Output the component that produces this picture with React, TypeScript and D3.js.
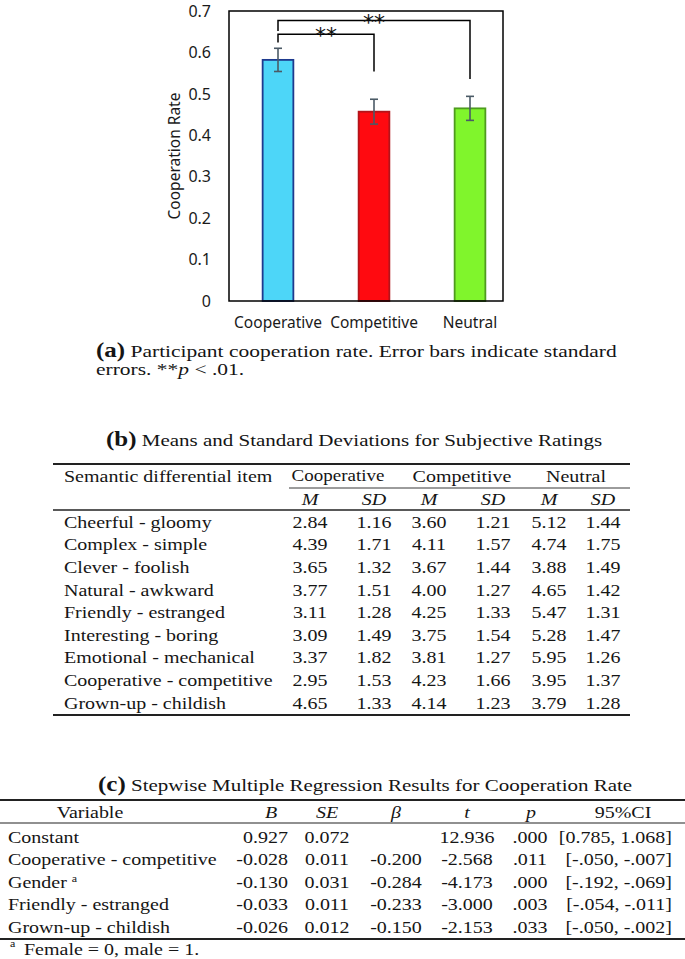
import React, { useEffect, useRef } from 'react';
import * as d3 from 'd3';

// (a) cooperation rate per condition
const conditions = ['Cooperative', 'Competitive', 'Neutral'];
const cooperationRates = [0.582, 0.457, 0.465];
const standardErrors = [0.028, 0.03, 0.029];
const barFills = ['#4DD6F8', '#FF0A10', '#80F52C'];
const barStrokes = ['#1E3A8E', '#B3141A', '#4E9C1E'];
const rateTicks = [0, 0.1, 0.2, 0.3, 0.4, 0.5, 0.6, 0.7];

// significance brackets, heights in cooperation-rate units
const brackets = [
  { from: 'Cooperative', to: 'Neutral', top: 0.677, leftEnd: 0.652, rightEnd: 0.536, label: '**' },
  { from: 'Cooperative', to: 'Competitive', top: 0.644, leftEnd: 0.624, rightEnd: 0.554, label: '**' },
];

// (b) subjective ratings
const ratingItems = [
  'Cheerful - gloomy',
  'Complex - simple',
  'Clever - foolish',
  'Natural - awkward',
  'Friendly - estranged',
  'Interesting - boring',
  'Emotional - mechanical',
  'Cooperative - competitive',
  'Grown-up - childish',
];
const ratingGroups = ['Cooperative', 'Competitive', 'Neutral'];
const cooperativeM = [2.84, 4.39, 3.65, 3.77, 3.11, 3.09, 3.37, 2.95, 4.65];
const cooperativeSD = [1.16, 1.71, 1.32, 1.51, 1.28, 1.49, 1.82, 1.53, 1.33];
const competitiveM = [3.6, 4.11, 3.67, 4.0, 4.25, 3.75, 3.81, 4.23, 4.14];
const competitiveSD = [1.21, 1.57, 1.44, 1.27, 1.33, 1.54, 1.27, 1.66, 1.23];
const neutralM = [5.12, 4.74, 3.88, 4.65, 5.47, 5.28, 5.95, 3.95, 3.79];
const neutralSD = [1.44, 1.75, 1.49, 1.42, 1.31, 1.47, 1.26, 1.37, 1.28];

// (c) stepwise regression
const regVariables = [
  'Constant',
  'Cooperative - competitive',
  'Gender',
  'Friendly - estranged',
  'Grown-up - childish',
];
const regB = [0.927, -0.028, -0.13, -0.033, -0.026];
const regSE = [0.072, 0.011, 0.031, 0.011, 0.012];
const regBeta = [null, -0.2, -0.284, -0.233, -0.15];
const regT = [12.936, -2.568, -4.173, -3.0, -2.153];
const regP = [0.0, 0.011, 0.0, 0.003, 0.033];
const regCILow = [0.785, -0.05, -0.192, -0.054, -0.05];
const regCIHigh = [1.068, -0.007, -0.069, -0.011, -0.002];

const W = 685;
const H = 959;
const SERIF = '"Liberation Serif", "Times New Roman", serif';
const SANS = '"Noto Sans", "Open Sans", sans-serif';
const INK = '#151515';
// the LaTeX parts of the figure are stretched wider than tall
const SY_CAPTION = 0.8;
const SY_TABLE = 0.86;

type Sel = d3.Selection<SVGSVGElement, unknown, null, undefined>;
type GSel = d3.Selection<any, unknown, null, undefined>;

// plain hyphen minus, as in the source tables
const fix3 = (v: number) => v.toFixed(3);
const fix2 = (v: number) => v.toFixed(2);
const noZero = (v: number) => (v < 0 ? '-' + (-v).toFixed(3).replace(/^0/, '') : v.toFixed(3));

const at = (x: number, y: number, sy = SY_TABLE) => `translate(${x},${y}) scale(1,${sy})`;

function drawBarChart(svg: Sel) {
  const plot = { left: 229, right: 503, top: 11, bottom: 301 };

  const y = d3.scaleLinear().domain([0, 0.7]).range([plot.bottom, plot.top]);
  const x = d3
    .scaleBand()
    .domain(conditions)
    .range([plot.left + 1, plot.right + 15])
    .paddingInner(0.68)
    .paddingOuter(0.34);
  const cx = (c: string) => (x(c) || 0) + x.bandwidth() / 2;

  const g = svg.append('g');

  // bars
  g.selectAll('.bar')
    .data(conditions)
    .enter()
    .append('rect')
    .attr('class', 'bar')
    .attr('x', (d) => x(d) || 0)
    .attr('y', (d, i) => y(cooperationRates[i]))
    .attr('width', x.bandwidth())
    .attr('height', (d, i) => y(0) - y(cooperationRates[i]))
    .attr('fill', (d, i) => barFills[i])
    .attr('stroke', (d, i) => barStrokes[i])
    .attr('stroke-width', 1.8);

  // error bars
  const err = g
    .selectAll('.err')
    .data(conditions)
    .enter()
    .append('g')
    .attr('class', 'err')
    .attr('stroke', '#4B5A66')
    .attr('stroke-width', 1.6);
  err
    .append('line')
    .attr('x1', (d) => cx(d))
    .attr('x2', (d) => cx(d))
    .attr('y1', (d, i) => y(cooperationRates[i] - standardErrors[i]))
    .attr('y2', (d, i) => y(cooperationRates[i] + standardErrors[i]));
  [-1, 1].forEach((s) => {
    err
      .append('line')
      .attr('x1', (d) => cx(d) - 4)
      .attr('x2', (d) => cx(d) + 4)
      .attr('y1', (d, i) => y(cooperationRates[i] + s * standardErrors[i]))
      .attr('y2', (d, i) => y(cooperationRates[i] + s * standardErrors[i]));
  });

  // plot frame
  g.append('rect')
    .attr('x', plot.left)
    .attr('y', plot.top)
    .attr('width', plot.right - plot.left)
    .attr('height', plot.bottom - plot.top)
    .attr('fill', 'none')
    .attr('stroke', '#000')
    .attr('stroke-width', 1.5);

  // y tick labels
  g.selectAll('.ytick')
    .data(rateTicks)
    .enter()
    .append('text')
    .attr('x', plot.left - 18)
    .attr('y', (d) => y(d))
    .attr('dy', '0.36em')
    .attr('text-anchor', 'end')
    .attr('font-family', SANS)
    .attr('font-size', 16)
    .attr('fill', '#1a1a1a')
    .text((d) => (d === 0 ? '0' : d3.format('.1f')(d)));

  g.append('text')
    .attr('transform', `translate(180,${(plot.top + plot.bottom) / 2}) rotate(-90)`)
    .attr('text-anchor', 'middle')
    .attr('font-family', SANS)
    .attr('font-size', 15.5)
    .attr('fill', '#1a1a1a')
    .text('Cooperation Rate');

  // x labels
  g.selectAll('.xlab')
    .data(conditions)
    .enter()
    .append('text')
    .attr('x', (d) => cx(d))
    .attr('y', 328)
    .attr('text-anchor', 'middle')
    .attr('font-family', SANS)
    .attr('font-size', 15.5)
    .attr('fill', '#1a1a1a')
    .text((d) => d);

  // significance brackets
  brackets.forEach((b) => {
    g.append('path')
      .attr('d', `M${cx(b.from)},${y(b.leftEnd)}V${y(b.top)}H${cx(b.to)}V${y(b.rightEnd)}`)
      .attr('fill', 'none')
      .attr('stroke', '#000')
      .attr('stroke-width', 1.5);
    g.append('text')
      .attr('x', (cx(b.from) + cx(b.to)) / 2)
      .attr('y', y(b.top) + 9)
      .attr('text-anchor', 'middle')
      .attr('font-family', '"DejaVu Sans", sans-serif')
      .attr('font-size', 22)
      .attr('fill', '#111')
      .text(b.label);
  });
}

function drawCaption(svg: Sel) {
  const t1 = svg
    .append('text')
    .attr('transform', at(96, 357, SY_CAPTION))
    .attr('font-family', SERIF)
    .attr('fill', INK);
  t1.append('tspan').attr('font-weight', 'bold').attr('font-size', 25).text('(a)');
  t1.append('tspan').attr('font-size', 21.5).text(' Participant cooperation rate. Error bars indicate standard');

  const t2 = svg
    .append('text')
    .attr('transform', at(96, 375, SY_CAPTION))
    .attr('font-family', SERIF)
    .attr('font-size', 21.5)
    .attr('fill', INK);
  t2.append('tspan').text('errors. **');
  t2.append('tspan').attr('font-style', 'italic').text('p');
  t2.append('tspan').text(' < .01.');
}

function title(svg: Sel, x: number, y: number, tag: string, text: string) {
  const t = svg
    .append('text')
    .attr('transform', at(x, y, SY_CAPTION))
    .attr('font-family', SERIF)
    .attr('fill', INK);
  t.append('tspan').attr('font-weight', 'bold').attr('font-size', 25).text(tag);
  t.append('tspan').attr('font-size', 21).text(' ' + text);
}

function rule(svg: Sel, x1: number, x2: number, y: number, w: number) {
  svg
    .append('line')
    .attr('x1', x1)
    .attr('x2', x2)
    .attr('y1', y)
    .attr('y2', y)
    .attr('stroke', '#222')
    .attr('stroke-width', w);
}

function cellText(g: GSel, x: number, y: number, anchor: string, s: string, italic = false) {
  return g
    .append('text')
    .attr('transform', at(x, y))
    .attr('dy', '0.33em')
    .attr('text-anchor', anchor)
    .attr('font-style', italic ? 'italic' : 'normal')
    .text(s);
}

function drawRatingsTable(svg: Sel) {
  title(svg, 106, 446, '(b)', 'Means and Standard Deviations for Subjective Ratings');

  const left = 53;
  const right = 630;
  const cols = ['cM', 'cSD', 'pM', 'pSD', 'nM', 'nSD'];
  const colX = d3.scaleOrdinal<string, number>().domain(cols).range([310, 374, 429, 493, 549, 603]);
  const groupX = d3.scaleOrdinal<string, number>().domain(ratingGroups).range([338, 462, 576]);
  const rowY = d3.scalePoint<string>().domain(ratingItems).range([522, 703]);
  const values = [cooperativeM, cooperativeSD, competitiveM, competitiveSD, neutralM, neutralSD];

  rule(svg, left, right, 464, 1.8);
  rule(svg, 289, right, 488, 0.9);
  rule(svg, left, right, 510, 1.3);
  rule(svg, left, right, 715, 1.8);

  const g = svg.append('g').attr('font-family', SERIF).attr('font-size', 20).attr('fill', INK);

  cellText(g, 64, 476, 'start', 'Semantic differential item');
  ratingGroups.forEach((grp) =>
    cellText(g, groupX(grp), 476, 'middle', grp).attr('font-size', grp === 'Cooperative' ? 19 : 20)
  );
  cols.forEach((c) => cellText(g, colX(c), 499, 'middle', c.endsWith('SD') ? 'SD' : 'M', true));

  ratingItems.forEach((item, r) => {
    const yy = rowY(item) || 0;
    cellText(g, 64, yy, 'start', item);
    cols.forEach((c, k) => cellText(g, colX(c), yy, 'middle', fix2(values[k][r])));
  });
}

function drawRegressionTable(svg: Sel) {
  title(svg, 98, 791, '(c)', 'Stepwise Multiple Regression Results for Cooperation Rate');

  rule(svg, 0, W, 800, 1.8);
  rule(svg, 0, W, 823, 1.2);
  rule(svg, 0, W, 939, 1.8);

  const rowY = d3.scalePoint<string>().domain(regVariables).range([837, 927]);
  const g = svg.append('g').attr('font-family', SERIF).attr('font-size', 20).attr('fill', INK);

  // header
  const headers = [
    { label: 'Variable', x: 90, italic: false },
    { label: 'B', x: 271, italic: true },
    { label: 'SE', x: 327, italic: true },
    { label: 'β', x: 396, italic: true },
    { label: 't', x: 467, italic: true },
    { label: 'p', x: 531, italic: true },
    { label: '95%CI', x: 623, italic: false },
  ];
  headers.forEach((h) => cellText(g, h.x, 812, 'middle', h.label, h.italic));

  regVariables.forEach((v, i) => {
    const yy = rowY(v) || 0;
    const label = cellText(g, 8, yy, 'start', v);
    if (v === 'Gender') {
      label.append('tspan').attr('dx', 5).attr('dy', -7).attr('font-size', 12).text('a');
    }
    cellText(g, 288, yy, 'end', fix3(regB[i]));
    cellText(g, 327, yy, 'middle', fix3(regSE[i]));
    if (regBeta[i] !== null) cellText(g, 396, yy, 'middle', fix3(regBeta[i] as number));
    cellText(g, 467, yy, 'middle', fix3(regT[i]));
    cellText(g, 530, yy, 'middle', fix3(regP[i]).replace(/^0/, ''));
    cellText(g, 672, yy, 'end', `[${noZero(regCILow[i])}, ${noZero(regCIHigh[i])}]`);
  });

  // footnote
  g.append('text').attr('transform', at(10, 947)).attr('font-size', 12).text('a');
  g.append('text').attr('transform', at(24, 955)).text('Female = 0, male = 1.');
}

export default function App() {
  const svgRef = useRef<SVGSVGElement>(null);

  useEffect(() => {
    if (!svgRef.current) return;
    const svg = d3.select(svgRef.current);
    svg.selectAll('*').remove();
    drawBarChart(svg);
    drawCaption(svg);
    drawRatingsTable(svg);
    drawRegressionTable(svg);
  }, []);

  return (
    <div>
      <style>{'body{margin:0;background:#fff}'}</style>
      <svg ref={svgRef} width={W} height={H} style={{ display: 'block', background: '#fff' }} />
    </div>
  );
}
